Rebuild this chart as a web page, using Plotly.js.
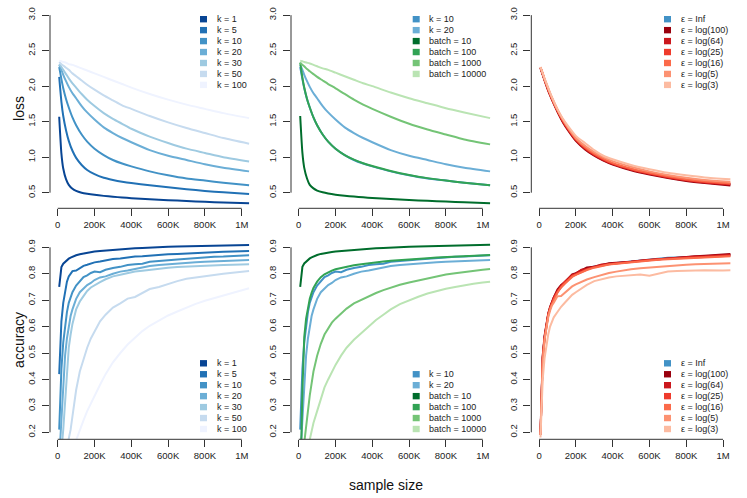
<!DOCTYPE html>
<html><head><meta charset="utf-8">
<script src="https://cdn.plot.ly/plotly-3.0.1.min.js"></script>
<style>html,body{margin:0;padding:0;background:#fff}#chart{width:747px;height:498px}</style>
</head><body><div id="chart"></div>
<script>
// ---------- data ----------
const lossSizes = [8000, 20000, 30000, 45000, 60000, 80000, 100000, 130000, 160000, 200000, 250000, 300000, 350000, 400000, 500000, 600000, 700000, 800000, 900000, 1040000];
const accSizes = [8000, 15000, 20000, 30000, 40000, 50000, 60000, 70000, 80000, 100000, 120000, 140000, 160000, 180000, 200000, 230000, 260000, 300000, 340000, 380000, 420000, 460000, 500000, 550000, 600000, 650000, 700000, 750000, 800000, 850000, 900000, 950000, 1000000, 1040000];

const kLabels = ['k = 1', 'k = 5', 'k = 10', 'k = 20', 'k = 30', 'k = 50', 'k = 100'];
const batchLabels = ['k = 10', 'k = 20', 'batch = 10', 'batch = 100', 'batch = 1000', 'batch = 10000'];
const epsLabels = ['ε = Inf', 'ε = log(100)', 'ε = log(64)', 'ε = log(25)', 'ε = log(16)', 'ε = log(5)', 'ε = log(3)'];

// loss, k runs
const lossK1 = [1.57, 1.05, 0.84, 0.69, 0.61, 0.555, 0.525, 0.50, 0.485, 0.47, 0.455, 0.443, 0.432, 0.423, 0.408, 0.395, 0.383, 0.372, 0.362, 0.35];
const lossK5 = [2.13, 1.78, 1.58, 1.38, 1.23, 1.09, 0.99, 0.89, 0.82, 0.76, 0.71, 0.68, 0.655, 0.635, 0.605, 0.575, 0.55, 0.525, 0.505, 0.48];
const lossK10 = [2.27, 2.10, 1.97, 1.82, 1.70, 1.56, 1.45, 1.32, 1.22, 1.12, 1.03, 0.96, 0.91, 0.87, 0.80, 0.745, 0.70, 0.67, 0.64, 0.605];
const lossK20 = [2.30, 2.23, 2.16, 2.07, 1.99, 1.90, 1.83, 1.72, 1.63, 1.53, 1.42, 1.34, 1.27, 1.21, 1.10, 1.02, 0.96, 0.90, 0.85, 0.80];
const lossK30 = [2.31, 2.27, 2.23, 2.17, 2.11, 2.04, 1.98, 1.89, 1.81, 1.72, 1.62, 1.54, 1.47, 1.40, 1.29, 1.20, 1.12, 1.06, 1.00, 0.94];
const lossK50 = [2.34, 2.31, 2.29, 2.26, 2.23, 2.18, 2.14, 2.08, 2.02, 1.95, 1.87, 1.80, 1.73, 1.68, 1.58, 1.49, 1.41, 1.34, 1.27, 1.19];
const lossK100 = [2.36, 2.35, 2.34, 2.33, 2.31, 2.30, 2.28, 2.25, 2.22, 2.18, 2.13, 2.08, 2.03, 1.98, 1.89, 1.81, 1.74, 1.68, 1.62, 1.55];

// loss, batch runs
const lossB10 = [1.58, 1.06, 0.85, 0.70, 0.61, 0.56, 0.53, 0.505, 0.488, 0.472, 0.457, 0.445, 0.434, 0.425, 0.41, 0.397, 0.385, 0.374, 0.364, 0.352];
const lossB100 = [2.33, 2.12, 1.98, 1.82, 1.70, 1.56, 1.45, 1.32, 1.22, 1.12, 1.03, 0.965, 0.915, 0.875, 0.805, 0.75, 0.705, 0.67, 0.64, 0.605];
const lossB1000 = [2.33, 2.30, 2.28, 2.24, 2.21, 2.17, 2.13, 2.08, 2.03, 1.97, 1.89, 1.81, 1.74, 1.68, 1.57, 1.47, 1.39, 1.32, 1.25, 1.18];
const lossB10000 = [2.36, 2.35, 2.34, 2.33, 2.32, 2.30, 2.28, 2.25, 2.23, 2.19, 2.14, 2.09, 2.04, 2.00, 1.91, 1.83, 1.76, 1.69, 1.63, 1.55];

// loss, privacy runs
const lossEInf = [2.26, 2.17, 2.09, 1.99, 1.89, 1.77, 1.66, 1.51, 1.39, 1.25, 1.13, 1.04, 0.97, 0.91, 0.83, 0.77, 0.72, 0.68, 0.65, 0.62];
const lossE100 = [2.25, 2.16, 2.08, 1.97, 1.87, 1.75, 1.64, 1.49, 1.37, 1.23, 1.11, 1.02, 0.95, 0.895, 0.815, 0.755, 0.705, 0.665, 0.635, 0.60];
const lossE64 = [2.26, 2.17, 2.09, 1.98, 1.88, 1.76, 1.65, 1.50, 1.38, 1.24, 1.12, 1.03, 0.96, 0.905, 0.825, 0.765, 0.715, 0.675, 0.645, 0.615];
const lossE25 = [2.26, 2.17, 2.09, 1.99, 1.89, 1.77, 1.66, 1.51, 1.39, 1.25, 1.13, 1.04, 0.97, 0.91, 0.83, 0.77, 0.72, 0.68, 0.65, 0.625];
const lossE16 = [2.26, 2.18, 2.10, 1.99, 1.89, 1.77, 1.66, 1.52, 1.40, 1.26, 1.14, 1.05, 0.98, 0.92, 0.84, 0.78, 0.73, 0.69, 0.66, 0.63];
const lossE5 = [2.27, 2.18, 2.10, 2.00, 1.90, 1.78, 1.67, 1.53, 1.41, 1.27, 1.16, 1.07, 1.00, 0.945, 0.865, 0.80, 0.75, 0.71, 0.68, 0.655];
const lossE3 = [2.27, 2.18, 2.11, 2.01, 1.91, 1.79, 1.68, 1.54, 1.43, 1.30, 1.20, 1.10, 1.02, 0.97, 0.89, 0.83, 0.78, 0.745, 0.715, 0.69];

// accuracy, k runs
const accK1 = [0.75, 0.80, 0.825, 0.838, 0.845, 0.852, 0.857, 0.861, 0.865, 0.870, 0.874, 0.877, 0.879, 0.882, 0.884, 0.886, 0.888, 0.890, 0.892, 0.894, 0.896, 0.897, 0.899, 0.900, 0.902, 0.903, 0.904, 0.905, 0.906, 0.906, 0.907, 0.908, 0.909, 0.909];
const accK5 = [0.42, 0.57, 0.62, 0.69, 0.74, 0.77, 0.79, 0.803, 0.81, 0.812, 0.822, 0.83, 0.834, 0.84, 0.843, 0.846, 0.850, 0.856, 0.858, 0.862, 0.865, 0.866, 0.869, 0.871, 0.874, 0.875, 0.877, 0.879, 0.879, 0.881, 0.883, 0.884, 0.885, 0.886];
const accK10 = [0.21, 0.37, 0.44, 0.54, 0.61, 0.655, 0.69, 0.715, 0.73, 0.755, 0.772, 0.787, 0.794, 0.803, 0.808, 0.806, 0.815, 0.822, 0.826, 0.833, 0.836, 0.838, 0.845, 0.847, 0.851, 0.854, 0.857, 0.859, 0.861, 0.864, 0.865, 0.867, 0.869, 0.870];
const accK20 = [0.10, 0.19, 0.27, 0.40, 0.49, 0.555, 0.605, 0.64, 0.665, 0.705, 0.73, 0.745, 0.757, 0.765, 0.776, 0.786, 0.79, 0.80, 0.808, 0.812, 0.818, 0.822, 0.829, 0.833, 0.836, 0.838, 0.841, 0.843, 0.845, 0.847, 0.849, 0.85, 0.851, 0.852];
const accK30 = [0.08, 0.10, 0.13, 0.21, 0.32, 0.43, 0.52, 0.57, 0.61, 0.665, 0.695, 0.715, 0.735, 0.748, 0.757, 0.768, 0.779, 0.79, 0.796, 0.802, 0.808, 0.811, 0.815, 0.819, 0.823, 0.825, 0.827, 0.829, 0.831, 0.832, 0.833, 0.834, 0.835, 0.836];
const accK50 = [0.05, 0.06, 0.07, 0.09, 0.11, 0.14, 0.17, 0.21, 0.26, 0.36, 0.43, 0.48, 0.52, 0.555, 0.58, 0.62, 0.645, 0.672, 0.688, 0.706, 0.712, 0.728, 0.742, 0.75, 0.762, 0.772, 0.781, 0.786, 0.792, 0.797, 0.80, 0.804, 0.808, 0.81];
const accK100 = [0.03, 0.035, 0.04, 0.05, 0.06, 0.07, 0.085, 0.10, 0.12, 0.17, 0.21, 0.245, 0.28, 0.31, 0.335, 0.38, 0.42, 0.465, 0.50, 0.532, 0.558, 0.583, 0.603, 0.622, 0.642, 0.657, 0.672, 0.686, 0.698, 0.708, 0.718, 0.728, 0.738, 0.745];

// accuracy, batch runs
const accB10 = [0.75, 0.80, 0.826, 0.839, 0.846, 0.853, 0.858, 0.862, 0.866, 0.871, 0.875, 0.878, 0.880, 0.882, 0.884, 0.886, 0.888, 0.890, 0.892, 0.894, 0.896, 0.897, 0.899, 0.900, 0.902, 0.903, 0.904, 0.905, 0.906, 0.907, 0.908, 0.908, 0.909, 0.910];
const accB100 = [0.08, 0.19, 0.36, 0.56, 0.63, 0.675, 0.705, 0.728, 0.746, 0.77, 0.787, 0.798, 0.806, 0.812, 0.817, 0.822, 0.827, 0.832, 0.836, 0.84, 0.843, 0.846, 0.849, 0.852, 0.855, 0.857, 0.859, 0.861, 0.863, 0.865, 0.867, 0.868, 0.870, 0.871];
const accB1000 = [0.08, 0.10, 0.12, 0.16, 0.21, 0.28, 0.34, 0.39, 0.43, 0.49, 0.535, 0.57, 0.595, 0.615, 0.63, 0.65, 0.668, 0.688, 0.702, 0.715, 0.727, 0.738, 0.748, 0.758, 0.767, 0.775, 0.783, 0.79, 0.797, 0.802, 0.807, 0.811, 0.815, 0.818];
const accB10000 = [0.05, 0.06, 0.07, 0.09, 0.11, 0.14, 0.18, 0.21, 0.235, 0.28, 0.33, 0.37, 0.40, 0.43, 0.455, 0.49, 0.52, 0.55, 0.575, 0.60, 0.625, 0.645, 0.665, 0.685, 0.70, 0.713, 0.725, 0.735, 0.743, 0.75, 0.757, 0.762, 0.767, 0.77];

// accuracy, privacy runs
const accEInf = [0.19, 0.40, 0.48, 0.56, 0.61, 0.645, 0.67, 0.69, 0.705, 0.73, 0.75, 0.765, 0.78, 0.79, 0.80, 0.81, 0.82, 0.827, 0.833, 0.838, 0.841, 0.844, 0.847, 0.851, 0.855, 0.858, 0.86, 0.861, 0.862, 0.864, 0.866, 0.867, 0.869, 0.870];
const accE100 = [0.20, 0.41, 0.49, 0.565, 0.615, 0.65, 0.675, 0.695, 0.71, 0.74, 0.757, 0.768, 0.785, 0.798, 0.802, 0.812, 0.824, 0.826, 0.834, 0.840, 0.842, 0.843, 0.845, 0.849, 0.852, 0.856, 0.858, 0.861, 0.864, 0.866, 0.868, 0.871, 0.873, 0.875];
const accE64 = [0.19, 0.40, 0.485, 0.56, 0.612, 0.648, 0.672, 0.692, 0.71, 0.735, 0.755, 0.77, 0.782, 0.795, 0.80, 0.815, 0.818, 0.828, 0.835, 0.837, 0.840, 0.845, 0.846, 0.85, 0.853, 0.855, 0.858, 0.86, 0.862, 0.865, 0.866, 0.868, 0.87, 0.872];
const accE25 = [0.19, 0.39, 0.48, 0.555, 0.608, 0.645, 0.668, 0.69, 0.705, 0.732, 0.752, 0.768, 0.778, 0.792, 0.797, 0.808, 0.816, 0.825, 0.831, 0.836, 0.839, 0.842, 0.846, 0.849, 0.852, 0.855, 0.857, 0.859, 0.861, 0.863, 0.864, 0.866, 0.867, 0.868];
const accE16 = [0.19, 0.39, 0.475, 0.55, 0.605, 0.642, 0.668, 0.688, 0.70, 0.728, 0.748, 0.762, 0.776, 0.788, 0.796, 0.806, 0.814, 0.823, 0.83, 0.835, 0.838, 0.841, 0.844, 0.847, 0.85, 0.853, 0.855, 0.857, 0.859, 0.861, 0.863, 0.864, 0.865, 0.866];
const accE5 = [0.19, 0.38, 0.46, 0.55, 0.60, 0.635, 0.66, 0.68, 0.69, 0.715, 0.716, 0.728, 0.742, 0.752, 0.76, 0.77, 0.778, 0.787, 0.796, 0.803, 0.808, 0.813, 0.817, 0.821, 0.824, 0.827, 0.83, 0.832, 0.834, 0.836, 0.837, 0.838, 0.839, 0.84];
const accE3 = [0.18, 0.33, 0.40, 0.48, 0.53, 0.57, 0.60, 0.62, 0.635, 0.655, 0.675, 0.69, 0.705, 0.72, 0.73, 0.745, 0.758, 0.772, 0.78, 0.786, 0.79, 0.792, 0.795, 0.797, 0.792, 0.80, 0.808, 0.81, 0.81, 0.812, 0.813, 0.812, 0.812, 0.813];

const xTickVals = [0, 200000, 400000, 600000, 800000, 1000000];
const xTickText = ['0', '200K', '400K', '600K', '800K', '1M'];
const lossTicks = [0.5, 1.0, 1.5, 2.0, 2.5, 3.0];
const accTicks = [0.2, 0.3, 0.4, 0.5, 0.6, 0.7, 0.8, 0.9];

// ---------- style ----------
const blues = ['#084594', '#2171b5', '#4292c6', '#6baed6', '#9ecae1', '#c6dbef', '#eff3ff'];
const greens = ['#006d2c', '#31a354', '#74c476', '#bae4b3'];
const reds = ['#4292c6', '#99000d', '#cb181d', '#ef3b2c', '#fb6a4a', '#fc9272', '#fcbba1'];
const W = 747, H = 498;
const FONT = 'Liberation Sans, Arial, Helvetica, sans-serif';
const colPx = [[50, 250], [291, 491], [531.3, 731.3]];
const rowPx = [[8.9, 208.3], [239.9, 439.3]];
const legendLeftPx = [200, 412.7, 664];
const rowStep = 10.95;

const panels = [
  {sizes: lossSizes, series: [lossK1, lossK5, lossK10, lossK20, lossK30, lossK50, lossK100], colors: blues, labels: kLabels, legTop: true},
  {sizes: lossSizes, series: [lossK10, lossK20, lossB10, lossB100, lossB1000, lossB10000], colors: [blues[2], blues[3]].concat(greens), labels: batchLabels, legTop: true},
  {sizes: lossSizes, series: [lossEInf, lossE100, lossE64, lossE25, lossE16, lossE5, lossE3], colors: reds, labels: epsLabels, legTop: true},
  {sizes: accSizes, series: [accK1, accK5, accK10, accK20, accK30, accK50, accK100], colors: blues, labels: kLabels, legTop: false},
  {sizes: accSizes, series: [accK10, accK20, accB10, accB100, accB1000, accB10000], colors: [blues[2], blues[3]].concat(greens), labels: batchLabels, legTop: false},
  {sizes: accSizes, series: [accEInf, accE100, accE64, accE25, accE16, accE5, accE3], colors: reds, labels: epsLabels, legTop: false}
];

const traces = [], shapes = [], annotations = [];
const layout = {
  width: W, height: H, margin: {l: 0, r: 0, t: 0, b: 0},
  paper_bgcolor: '#fff', plot_bgcolor: '#fff', showlegend: false,
  font: {family: FONT, color: '#222'}
};

panels.forEach((p, i) => {
  const row = i < 3 ? 0 : 1, col = i % 3, n = i + 1;
  const xa = 'x' + (n === 1 ? '' : n), ya = 'y' + (n === 1 ? '' : n);
  const xk = 'xaxis' + (n === 1 ? '' : n), yk = 'yaxis' + (n === 1 ? '' : n);
  const yTicks = row === 0 ? lossTicks : accTicks;
  layout[xk] = {
    domain: [colPx[col][0] / W, colPx[col][1] / W], anchor: ya,
    range: [-42000, 1045000], tickvals: xTickVals, ticktext: xTickText,
    ticks: 'outside', ticklen: 7, tickcolor: '#333', tickwidth: 1,
    showline: false, showgrid: false, zeroline: false,
    tickfont: {size: 9.5, color: '#222', family: FONT}
  };
  layout[yk] = {
    domain: [1 - rowPx[row][1] / H, 1 - rowPx[row][0] / H], anchor: xa,
    range: row === 0 ? [0.28, 3.088] : [0.1735, 0.928],
    tickvals: yTicks, tickformat: '.1f', tickangle: -90,
    ticks: 'outside', ticklen: 7, tickcolor: '#333', tickwidth: 1,
    showline: false, showgrid: false, zeroline: false, ticklabelstandoff: 3,
    tickfont: {size: 9.5, color: '#222', family: FONT}
  };
  // R-style axis lines spanning first..last tick
  shapes.push({type: 'line', xref: xa, yref: ya + ' domain', x0: xTickVals[0], x1: xTickVals[xTickVals.length - 1], y0: 0, y1: 0, line: {color: '#333', width: 1}});
  shapes.push({type: 'line', xref: xa + ' domain', yref: ya, x0: 0, x1: 0, y0: yTicks[0], y1: yTicks[yTicks.length - 1], line: {color: '#333', width: 1}});

  p.series.forEach((s, j) => {
    traces.push({
      type: 'scatter', mode: 'lines', x: p.sizes, y: s, xaxis: xa, yaxis: ya,
      name: p.labels[j], line: {color: p.colors[j], width: 2, shape: row === 0 ? 'spline' : 'linear', smoothing: 0.6},
      hoverinfo: 'skip'
    });
  });

  // legend (R style: filled boxes)
  const nItems = p.labels.length;
  const firstY = p.legTop ? rowPx[row][0] + 10.3 : rowPx[row][1] - 10.3 - (nItems - 1) * rowStep;
  const left = legendLeftPx[col];
  p.labels.forEach((lab, j) => {
    const cy = firstY + j * rowStep;
    shapes.push({type: 'rect', xref: 'paper', yref: 'paper', x0: left / W, x1: (left + 7) / W,
      y0: 1 - (cy + 3.2) / H, y1: 1 - (cy - 3.2) / H, fillcolor: p.colors[j], line: {width: 0}});
    annotations.push({xref: 'paper', yref: 'paper', x: (left + 14.5) / W, y: 1 - cy / H,
      xanchor: 'left', yanchor: 'middle', showarrow: false, text: lab,
      font: {size: 9, color: '#222', family: FONT}});
  });
});

annotations.push({xref: 'paper', yref: 'paper', x: 18.3 / W, y: 1 - 108.6 / H, text: 'loss', textangle: -90,
  showarrow: false, xanchor: 'center', yanchor: 'middle', font: {size: 14, color: '#111', family: FONT}});
annotations.push({xref: 'paper', yref: 'paper', x: 18.3 / W, y: 1 - 339.6 / H, text: 'accuracy', textangle: -90,
  showarrow: false, xanchor: 'center', yanchor: 'middle', font: {size: 14, color: '#111', family: FONT}});
annotations.push({xref: 'paper', yref: 'paper', x: 386 / W, y: 1 - 485 / H, text: 'sample size',
  showarrow: false, xanchor: 'center', yanchor: 'middle', font: {size: 14, color: '#111', family: FONT}});

layout.shapes = shapes;
layout.annotations = annotations;

Plotly.newPlot('chart', traces, layout, {staticPlot: true, displayModeBar: false});
</script>
</body></html>
